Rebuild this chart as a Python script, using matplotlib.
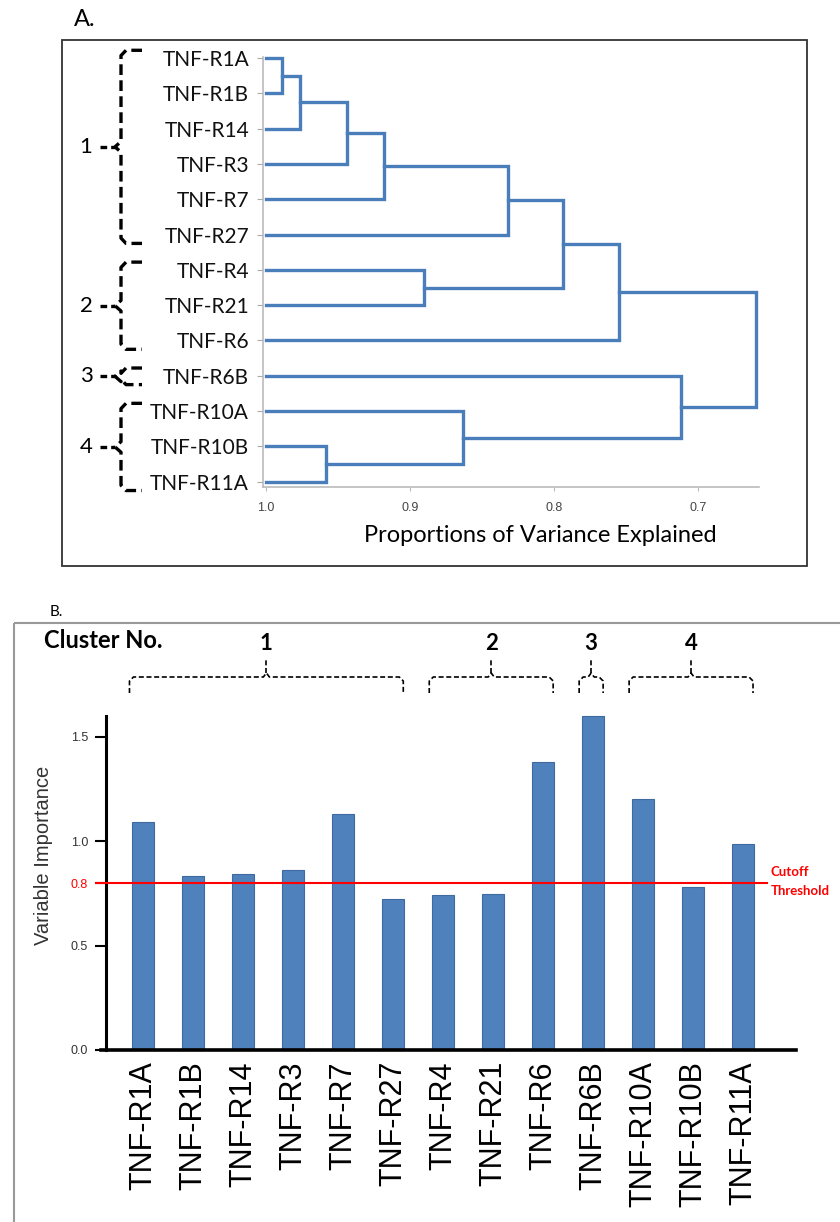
import matplotlib
matplotlib.use("Agg")
import matplotlib.pyplot as plt
from matplotlib.patches import Rectangle
from matplotlib.transforms import blended_transform_factory as blend
import numpy as np

# ---- data: panel A (dendrogram) ----
leaves = ["TNF-R1A", "TNF-R1B", "TNF-R14", "TNF-R3", "TNF-R7", "TNF-R27",
          "TNF-R4", "TNF-R21", "TNF-R6", "TNF-R6B", "TNF-R10A", "TNF-R10B", "TNF-R11A"]
# merge k creates node len(leaves)+k
merge_left = [0, 13, 14, 15, 16, 6, 17, 19, 11, 10, 9, 20]
merge_right = [1, 2, 3, 4, 5, 7, 18, 8, 12, 21, 22, 23]
merge_height = [0.989, 0.976, 0.944, 0.918, 0.832, 0.890, 0.794, 0.755,
                0.958, 0.863, 0.712, 0.660]
dendro_ticks = [1.0, 0.9, 0.8, 0.7]

cluster_names = ["1", "2", "3", "4"]
cluster_first = [0, 6, 9, 10]
cluster_last = [5, 8, 9, 12]

# ---- data: panel B (bar chart) ----
importance = [1.094, 0.835, 0.845, 0.861, 1.129, 0.725, 0.741, 0.746,
              1.379, 1.602, 1.203, 0.783, 0.986]
cutoff = 0.8
bar_ticks = [0.0, 0.5, cutoff, 1.0, 1.5]

blue_line = "#4a7ebb"
bar_col = "#4f81bd"

fig = plt.figure(figsize=(8.4, 12.22), dpi=100)

# overlay in pixel units for frames and free text
ov = fig.add_axes([0, 0, 1, 1])
ov.set_xlim(0, 840)
ov.set_ylim(1222, 0)
ov.axis("off")
ov.add_patch(Rectangle((62, 40), 745, 526, fill=False, ec="#333333", lw=1.3))
ov.add_patch(Rectangle((14, 623), 900, 700, fill=False, ec="#999999", lw=1.5, clip_on=False))
ov.text(74, 20, "A.", fontsize=17, family="Lato", va="center")
ov.text(50, 612, "B.", fontsize=11, family="Lato", va="center")

# ---------------- panel A ----------------
axA = fig.add_axes([263 / 840, 1 - 487 / 1222, 496 / 840, 430 / 1222])
n = len(leaves)
ypos = {i: float(i) for i in range(n)}
hgt = {i: 1.0 for i in range(n)}
for k, (l, r, h) in enumerate(zip(merge_left, merge_right, merge_height)):
    yl, yr = ypos[l], ypos[r]
    axA.plot([hgt[l], h, h, hgt[r]], [yl, yl, yr, yr], color=blue_line, lw=2.4,
             solid_joinstyle="miter", clip_on=False)
    ypos[n + k] = (yl + yr) / 2
    hgt[n + k] = h

axA.set_xlim(1.002, 0.658)
axA.set_ylim(12.15, -0.03)
axA.set_yticks(range(n))
axA.set_yticklabels(leaves, fontsize=15, family="Lato", color="#111111")
axA.set_xticks(dendro_ticks)
axA.set_xticklabels([f"{t:.1f}" for t in dendro_ticks], fontsize=9,
                    family="Liberation Sans", color="#444444")
axA.tick_params(axis="y", length=4, color="#aaaaaa", pad=6)
axA.tick_params(axis="x", length=3, color="#bbbbbb", pad=8)
for s in ["top", "right"]:
    axA.spines[s].set_visible(False)
for s in ["left", "bottom"]:
    axA.spines[s].set_color("#bbbbbb")
    axA.spines[s].set_linewidth(1.2)
ov.text(540, 535, "Proportions of Variance Explained", fontsize=17, family="Lato",
        ha="center", va="center")

trA = blend(ov.transData, axA.transData)
for name, a, b in zip(cluster_names, cluster_first, cluster_last):
    top, bot = a - 0.22, b + 0.25
    mid = (top + bot) / 2
    ov.plot([142, 126, 121, 121, 115, 121, 121, 126, 142],
            [top, top, top + 0.15, mid - 0.15, mid, mid + 0.15, bot - 0.15, bot, bot],
            transform=trA, color="black", lw=2.4, dashes=(3.2, 1.6), clip_on=False)
    ov.plot([100, 115], [mid, mid], transform=trA, color="black", lw=2.4,
            dashes=(2, 1.2), clip_on=False)
    ov.text(86, mid, name, transform=trA, fontsize=16, family="Lato",
            ha="center", va="center")

# ---------------- panel B ----------------
axB = fig.add_axes([101 / 840, 1 - 1050 / 1222, 695 / 840, 334 / 1222])
x = np.arange(len(leaves))
axB.bar(x, importance, width=0.44, color=bar_col, edgecolor="#3d6b9f", lw=0.8,
        clip_on=False, zorder=2)
axB.plot([-0.95, 12.47], [cutoff, cutoff], color="red", lw=1.5, clip_on=False, zorder=3)
axB.text(12.55, cutoff + 0.055, "Cutoff", color="red", fontsize=9.5, family="Lato",
         weight="bold", va="center")
axB.text(12.55, cutoff - 0.04, "Threshold", color="red", fontsize=9.5, family="Lato",
         weight="bold", va="center")

axB.set_xlim(-0.85, 13.06)
axB.set_ylim(0, 1.6)
axB.spines["left"].set_position(("data", -0.75))
axB.spines["left"].set_linewidth(2.2)
axB.spines["bottom"].set_linewidth(2.6)
for s in ["top", "right"]:
    axB.spines[s].set_visible(False)
axB.set_yticks(bar_ticks)
axB.set_yticklabels([f"{t:.1f}" for t in bar_ticks], fontsize=9,
                    family="Liberation Sans", color="#333333")
axB.tick_params(axis="y", length=8, width=1.5, pad=5)
for t, lab in zip(axB.yaxis.get_major_ticks(), axB.get_yticklabels()):
    if abs(float(lab.get_text()) - cutoff) < 1e-9:
        lab.set_color("red")
        t.tick1line.set_color("red")
axB.set_xticks(x)
axB.set_xticklabels(leaves, rotation=90, fontsize=22, family="Liberation Sans")
axB.tick_params(axis="x", length=0, pad=8)
ov.text(44, 855, "Variable Importance", rotation=90, fontsize=14.5,
        family="Liberation Sans", color="#333333", ha="center", va="center")

ov.text(44, 641, "Cluster No.", fontsize=17, family="Lato", weight="bold", va="center")
trB = blend(axB.transData, ov.transData)
for name, a, b in zip(cluster_names, cluster_first, cluster_last):
    x0, x1 = a - 0.28, b + 0.2
    xm = (x0 + x1) / 2
    ov.plot([x0, x0, x0 + 0.08, xm - 0.06, xm, xm + 0.06, x1 - 0.08, x1, x1],
            [693, 681, 677, 677, 673, 677, 677, 681, 693],
            transform=trB, color="black", lw=1.2, dashes=(3, 1.6), clip_on=False)
    ov.plot([xm, xm], [673, 660], transform=trB, color="black", lw=1.2,
            dashes=(3, 1.6), clip_on=False)
    ov.text(xm, 643, name, transform=trB, fontsize=16, family="Lato", weight="bold",
            ha="center", va="center")

fig.savefig("out.png", dpi=100)
